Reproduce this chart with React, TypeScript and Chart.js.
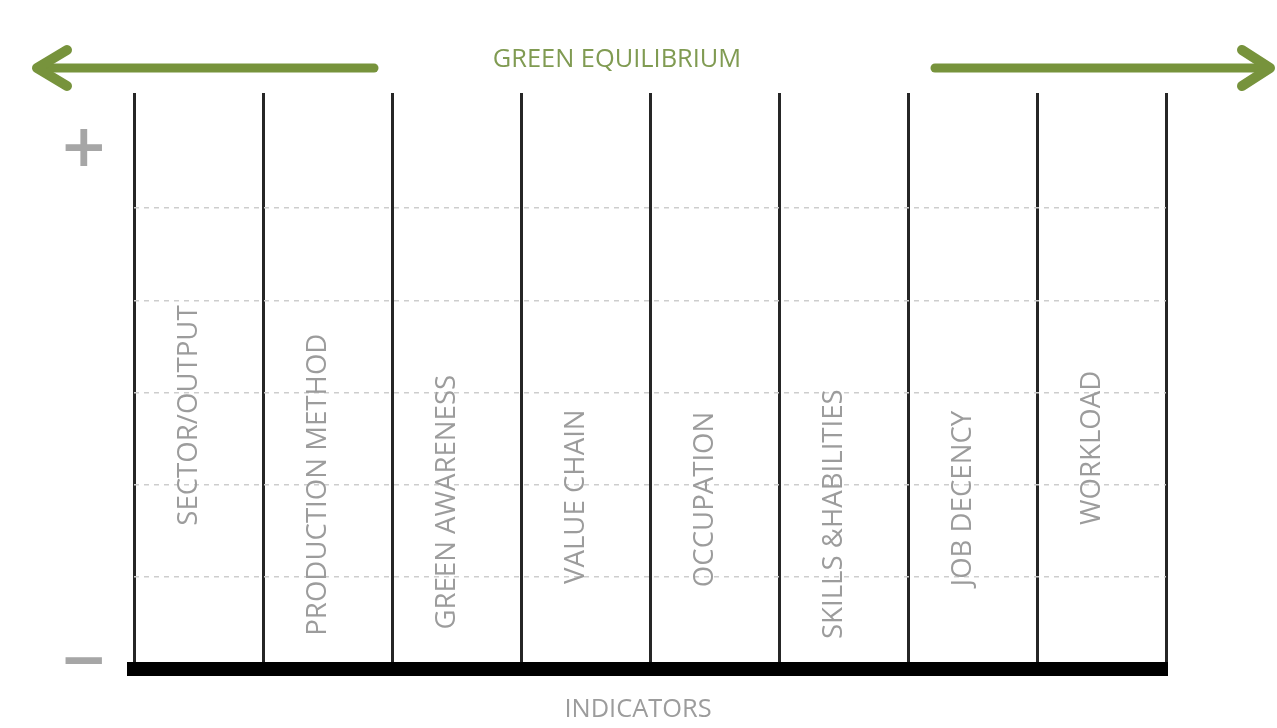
import { useEffect, useRef } from 'react';
import { Chart, registerables } from 'chart.js';

Chart.register(...registerables);

// ---- data ----
const categories = [
  'SECTOR/OUTPUT',
  'PRODUCTION METHOD',
  'GREEN AWARENESS',
  'VALUE CHAIN',
  'OCCUPATION',
  'SKILLS &HABILITIES',
  'JOB DECENCY',
  'WORKLOAD',
];
// level (on the −…+ scale) at which each indicator's label is centred
const labelLevels = [2.75, 2.0, 1.81, 1.87, 1.84, 1.68, 1.85, 2.4];
const gridLevels = [1, 2, 3, 4, 5];
const scaleMin = 0;
const scaleMax = 6.25;
const topTitle = 'GREEN EQUILIBRIUM';
const axisTitle = 'INDICATORS';
const plusSign = '+';
const minusSign = '\u2212';

const GREEN = '#77933c';
const GREY_TEXT = '#9c9c9c';

function yScaleY(chart: any, v: number) {
  return chart.scales.y.getPixelForValue(v);
}

const decorPlugin = {
  id: 'decor',
  afterDraw(chart: any) {
    const { ctx, chartArea } = chart;
    ctx.save();

    // indicator labels (rotated), anchored to the scatter points
    const meta = chart.getDatasetMeta(0);
    ctx.fillStyle = GREY_TEXT;
    ctx.font = '400 27.6px "Open Sans"';
    ctx.textAlign = 'center';
    ctx.textBaseline = 'alphabetic';
    const capH = ctx.measureText('H').actualBoundingBoxAscent;
    meta.data.forEach((el: any, i: number) => {
      ctx.save();
      ctx.translate(el.x, el.y);
      ctx.rotate(-Math.PI / 2);
      ctx.fillText(categories[i], 0, capH / 2);
      ctx.restore();
    });

    // arrows
    const ay = chartArea.top - 25;
    ctx.strokeStyle = GREEN;
    ctx.lineWidth = 9;
    ctx.lineCap = 'round';
    ctx.lineJoin = 'round';
    // left
    ctx.beginPath();
    ctx.moveTo(374, ay);
    ctx.lineTo(38, ay);
    ctx.stroke();
    ctx.lineWidth = 10;
    ctx.beginPath();
    ctx.moveTo(67, ay - 18);
    ctx.lineTo(37, ay);
    ctx.lineTo(67, ay + 18);
    ctx.stroke();
    // right
    ctx.lineWidth = 9;
    ctx.beginPath();
    ctx.moveTo(935, ay);
    ctx.lineTo(1268, ay);
    ctx.stroke();
    ctx.lineWidth = 10;
    ctx.beginPath();
    ctx.moveTo(1242, ay - 18);
    ctx.lineTo(1270, ay);
    ctx.lineTo(1242, ay + 18);
    ctx.stroke();

    // top title
    ctx.font = '400 25.4px "Open Sans"';
    ctx.textAlign = 'center';
    const capT = ctx.measureText('H').actualBoundingBoxAscent;
    ctx.fillStyle = '#809b52';
    ctx.fillText(topTitle, 617, 58 + capT / 2);

    // bottom axis title
    ctx.fillStyle = GREY_TEXT;
    ctx.fillText(axisTitle, 638, chartArea.bottom + 39 + capT / 2);

    // + and − markers
    ctx.font = 'bold 58px "DejaVu Sans"';
    ctx.fillStyle = '#a6a6a6';
    ctx.textAlign = 'left';
    const drawCentered = (s: string, cx: number, cy: number) => {
      const m = ctx.measureText(s);
      const w = m.actualBoundingBoxRight + m.actualBoundingBoxLeft;
      const x = cx - w / 2 + m.actualBoundingBoxLeft;
      const y = cy + (m.actualBoundingBoxAscent - m.actualBoundingBoxDescent) / 2;
      ctx.fillText(s, x, y);
    };
    drawCentered(plusSign, 84, yScaleY(chart, 5.66));
    drawCentered(minusSign, 84, yScaleY(chart, 0.09));

    ctx.restore();
  },
};

export default function App() {
  const canvasRef = useRef<HTMLCanvasElement | null>(null);

  useEffect(() => {
    const canvas = canvasRef.current;
    if (!canvas) return;
    const chart = new Chart(canvas, {
      type: 'scatter',
      data: {
        datasets: [
          {
            label: 'labels',
            data: categories.map((_, i) => ({ x: i + 0.41, y: labelLevels[i] })),
            pointRadius: 0,
            pointHoverRadius: 0,
            backgroundColor: 'transparent',
            borderColor: 'transparent',
          },
        ],
      },
      options: {
        animation: false,
        responsive: true,
        maintainAspectRatio: false,
        events: [],
        layout: { padding: { left: 134, right: 111, top: 93, bottom: 59 } },
        plugins: {
          legend: { display: false },
          tooltip: { enabled: false },
          title: { display: false },
        },
        scales: {
          x: {
            type: 'linear',
            min: 0,
            max: categories.length,
            afterBuildTicks: (scale: any) => {
              scale.ticks = [...categories.map((_, i) => ({ value: i })), { value: categories.length }];
            },
            ticks: { display: false },
            grid: { color: '#262626', lineWidth: 3, drawTicks: false },
            border: { display: true, width: 14, color: '#000000' },
          },
          y: {
            type: 'linear',
            min: scaleMin,
            max: scaleMax,
            z: -1,
            afterBuildTicks: (scale: any) => {
              scale.ticks = gridLevels.map((v) => ({ value: v }));
            },
            ticks: { display: false },
            grid: { color: '#cdcdcd', lineWidth: 1.5, drawTicks: false },
            border: { display: false, dash: [5, 5] },
          },
        },
      },
      plugins: [decorPlugin],
    });
    return () => chart.destroy();
  }, []);

  return (
    <div style={{ position: 'fixed', left: 0, top: 0, width: 1277, height: 728, background: '#fff' }}>
      <canvas ref={canvasRef} />
    </div>
  );
}
